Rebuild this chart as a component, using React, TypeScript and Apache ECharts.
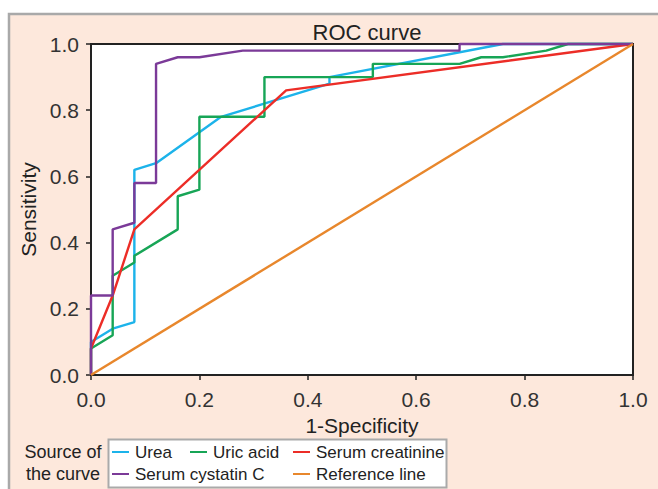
import React, { useEffect, useRef } from "react";
import * as echarts from "echarts";

const ureaX = [0, 0, 0.04, 0.08, 0.08, 0.12, 0.24, 0.44, 0.44, 0.76, 1];
const ureaY = [0, 0.1, 0.14, 0.16, 0.62, 0.64, 0.78, 0.88, 0.9, 1, 1];

const uricX = [0, 0, 0.04, 0.04, 0.08, 0.08, 0.16, 0.16, 0.2, 0.2, 0.32, 0.32, 0.52, 0.52, 0.68, 0.72, 0.76, 0.84, 0.88, 1];
const uricY = [0, 0.08, 0.12, 0.3, 0.34, 0.36, 0.44, 0.54, 0.56, 0.78, 0.78, 0.9, 0.9, 0.94, 0.94, 0.96, 0.96, 0.98, 1, 1];

const creatX = [0, 0, 0.04, 0.08, 0.36, 1];
const creatY = [0, 0.08, 0.24, 0.44, 0.86, 1];

const cystX = [0, 0, 0.04, 0.04, 0.08, 0.08, 0.12, 0.12, 0.16, 0.2, 0.28, 0.68, 0.68, 1];
const cystY = [0, 0.24, 0.24, 0.44, 0.46, 0.58, 0.58, 0.94, 0.96, 0.96, 0.98, 0.98, 1, 1];

const refX = [0, 1];
const refY = [0, 1];

const tickValues = [0, 0.2, 0.4, 0.6, 0.8, 1.0];

const names = ["Urea", "Uric acid", "Serum creatinine", "Serum cystatin C", "Reference line"];
const colors = ["#1cb3ea", "#17a556", "#ec2d27", "#7b3a98", "#e8872c"];

const zip = (xs: number[], ys: number[]) => xs.map((x, i) => [x, ys[i]]);

export default function App() {
  const ref = useRef<HTMLDivElement>(null);
  useEffect(() => {
    if (!ref.current) return;
    const chart = echarts.init(ref.current, null, { renderer: "svg" });
    const font = "Liberation Sans, Arial, sans-serif";
    const seriesData = [
      zip(ureaX, ureaY),
      zip(uricX, uricY),
      zip(creatX, creatY),
      zip(cystX, cystY),
      zip(refX, refY),
    ];
    const legendPos = [
      { left: 112, top: 442 },
      { left: 190, top: 442 },
      { left: 293, top: 442 },
      { left: 112, top: 464 },
      { left: 293, top: 464 },
    ];
    const fmt = (v: number) => {
      const t = tickValues.find((x) => Math.abs(x - v) < 1e-9);
      return t !== undefined ? t.toFixed(1) : "";
    };
    chart.setOption({
      animation: false,
      backgroundColor: "#ffffff",
      textStyle: { fontFamily: font },
      title: {
        text: "ROC curve",
        left: 362,
        top: 16,
        textAlign: "center",
        textStyle: { fontSize: 22, fontWeight: "normal", color: "#222", fontFamily: font },
      },
      grid: {
        left: 91,
        right: 25,
        top: 44,
        bottom: 114,
        show: true,
        backgroundColor: "#ffffff",
        borderColor: "#222",
        borderWidth: 2,
        z: 1,
      },
      xAxis: {
        type: "value",
        min: 0,
        max: 1,
        interval: 0.2,
        name: "1-Specificity",
        nameLocation: "middle",
        nameGap: 37,
        nameTextStyle: { fontSize: 21, color: "#222", fontFamily: font },
        axisLine: { show: true, lineStyle: { color: "#222", width: 2 } },
        axisTick: { show: true, length: 5, lineStyle: { color: "#222", width: 1.5 } },
        axisLabel: { fontSize: 21, color: "#333", margin: 14, fontFamily: font, formatter: fmt },
        splitLine: { show: false },
      },
      yAxis: {
        type: "value",
        min: 0,
        max: 1,
        interval: 0.2,
        name: "Sensitivity",
        nameLocation: "middle",
        nameGap: 52,
        nameRotate: 90,
        nameTextStyle: { fontSize: 21, color: "#222", fontFamily: font },
        axisLine: { show: true, lineStyle: { color: "#222", width: 2 } },
        axisTick: { show: true, length: 5, lineStyle: { color: "#222", width: 1.5 } },
        axisLabel: { fontSize: 21, color: "#333", margin: 12, fontFamily: font, formatter: fmt },
        splitLine: { show: false },
      },
      legend: names.map((n, i) => ({
        data: [n],
        left: legendPos[i].left,
        top: legendPos[i].top,
        padding: 0,
        icon: "rect",
        itemWidth: 17,
        itemHeight: 2,
        itemGap: 0,
        selectedMode: false,
        z: 20,
        textStyle: { fontSize: 17, color: "#222", fontFamily: font, padding: [0, 0, 0, 1], lineHeight: 20 },
      })),
      graphic: [
        {
          type: "rect",
          z: -10,
          shape: { x: 9, y: 14, width: 700, height: 600 },
          style: { fill: "#fde8dc", stroke: "#a9a9a9", lineWidth: 2.5 },
        },
        {
          type: "rect",
          z: 10,
          shape: { x: 108.5, y: 439.5, width: 338, height: 48 },
          style: { fill: "#ffffff", stroke: "#aaaaaa", lineWidth: 2 },
        },
        {
          type: "text",
          z: 10,
          x: 63,
          y: 452,
          style: { text: "Source of", font: `18px ${font}`, fill: "#222", textAlign: "center", textVerticalAlign: "middle" },
        },
        {
          type: "text",
          z: 10,
          x: 63,
          y: 474,
          style: { text: "the curve", font: `18px ${font}`, fill: "#222", textAlign: "center", textVerticalAlign: "middle" },
        },
      ],
      series: names.map((n, i) => ({
        name: n,
        type: "line",
        data: seriesData[i],
        showSymbol: false,
        symbol: "none",
        z: 5,
        lineStyle: { color: colors[i], width: 2.4 },
        itemStyle: { color: colors[i] },
        clip: false,
      })),
    });
    return () => chart.dispose();
  }, []);
  return (
    <div
      ref={ref}
      style={{ position: "fixed", left: 0, top: 0, width: 658, height: 489 }}
    />
  );
}
